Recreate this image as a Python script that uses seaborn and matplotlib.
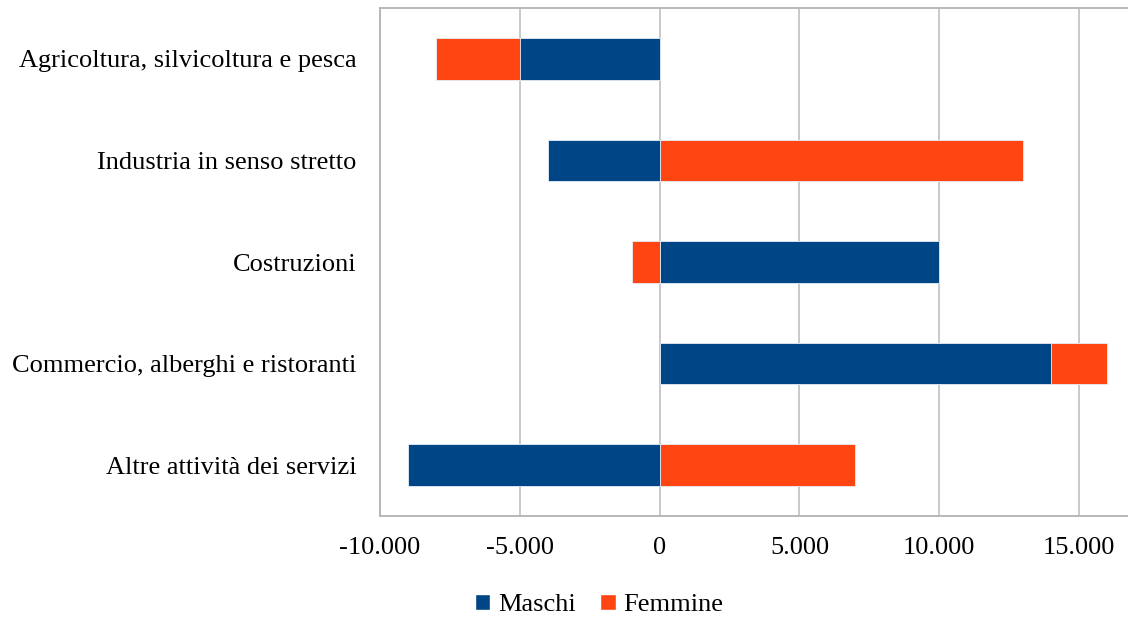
import matplotlib
matplotlib.use("Agg")
import matplotlib.pyplot as plt
import seaborn as sns
import pandas as pd
from matplotlib.ticker import FuncFormatter, FixedLocator
from matplotlib.patches import Patch

categories = [
    "Agricoltura, silvicoltura e pesca",
    "Industria in senso stretto",
    "Costruzioni",
    "Commercio, alberghi e ristoranti",
    "Altre attività dei servizi",
]
maschi = [-5000, -4000, 10000, 14000, -9000]
femmine = [-3000, 13000, -1000, 2000, 7000]
x_ticks = [-10000, -5000, 0, 5000, 10000, 15000]
series_names = ["Maschi", "Femmine"]

BLUE = "#004586"
ORANGE = "#FF4512"
FS = 19

sns.set_theme(style="white")
plt.rcParams["font.family"] = ["Liberation Serif", "DejaVu Serif"]
plt.rcParams["text.color"] = "black"

# Stacked end of the Femmine segment (stacks on Maschi when the signs agree)
fem_end = [f + (m if (m * f) > 0 else 0) for m, f in zip(maschi, femmine)]
df = pd.DataFrame({"cat": categories, "Maschi": maschi, "FemEnd": fem_end})

fig = plt.figure(figsize=(11.28, 6.22), dpi=100)
ax = fig.add_axes([380 / 1128, 1 - 516 / 622, 1 - 380 / 1128, (516 - 8) / 622])

ax.set_axisbelow(True)
ax.xaxis.grid(True, color="#c0c0c0", linewidth=1.2)
ax.yaxis.grid(False)

sns.barplot(data=df, y="cat", x="FemEnd", color=ORANGE, orient="h", width=0.41,
            saturation=1, edgecolor="#e8eef5", linewidth=0.6, ax=ax, zorder=2)
sns.barplot(data=df, y="cat", x="Maschi", color=BLUE, orient="h", width=0.41,
            saturation=1, edgecolor="#e8eef5", linewidth=0.6, ax=ax, zorder=3)

ax.set_xlim(-10000, 16750)
ax.set_ylim(4.5, -0.5)
ax.xaxis.set_major_locator(FixedLocator(x_ticks))
ax.xaxis.set_major_formatter(FuncFormatter(lambda v, p: f"{v:,.0f}".replace(",", ".")))
ax.set_xlabel("")
ax.set_ylabel("")
ax.tick_params(axis="x", length=0, pad=15, labelsize=FS, colors="black")
ax.tick_params(axis="y", length=0, pad=17, labelsize=FS, colors="black")

for s in ["left", "bottom", "top"]:
    ax.spines[s].set_visible(True)
    ax.spines[s].set_color("#b3b3b3")
    ax.spines[s].set_linewidth(1.3)
ax.spines["right"].set_visible(False)

handles = [Patch(facecolor=BLUE, label=series_names[0]),
           Patch(facecolor=ORANGE, label=series_names[1])]
fig.legend(handles=handles, loc="center", bbox_to_anchor=(599 / 1128, 1 - 605 / 622),
           ncol=2, frameon=False, fontsize=FS, handlelength=0.6, handleheight=0.6,
           handletextpad=0.3, columnspacing=0.9, labelcolor="black")

fig.savefig("out.png", dpi=100)
